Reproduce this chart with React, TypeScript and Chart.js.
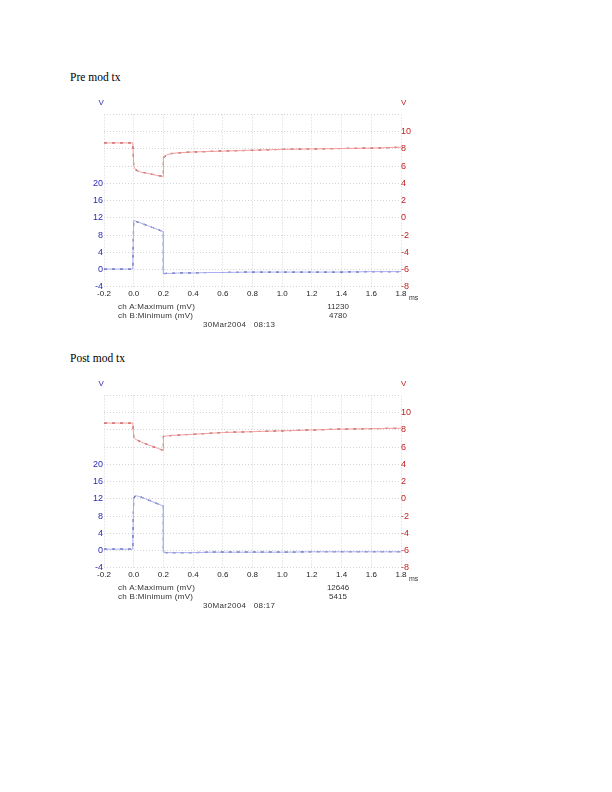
import React, { useEffect, useRef } from "react";
import { Chart, registerables } from "chart.js";

Chart.register(...registerables);

// ---- data (time in ms, values in V) ----
const timeMs = [-0.2, -0.1, -0.006, -0.006, 0.0, 0.01, 0.02, 0.05, 0.1, 0.15, 0.2, 0.2, 0.22, 0.25, 0.3, 0.4, 0.5, 0.6, 0.8, 1.0, 1.2, 1.4, 1.6, 1.8];

const preChA = [8.7, 8.7, 8.7, 8.7, 6.0, 5.65, 5.5, 5.3, 5.15, 4.95, 4.8, 7.0, 7.3, 7.45, 7.55, 7.65, 7.7, 7.75, 7.85, 7.95, 8.0, 8.05, 8.1, 8.2];
const preChB = [0.1, 0.1, 0.1, 0.7, 11.4, 11.25, 11.1, 10.75, 10.1, 9.45, 8.8, -1.0, -0.9, -0.9, -0.8, -0.8, -0.7, -0.7, -0.6, -0.6, -0.6, -0.6, -0.5, -0.5];

const postChA = [8.8, 8.8, 8.8, 8.8, 7.2, 6.95, 6.85, 6.6, 6.25, 5.95, 5.6, 7.25, 7.3, 7.35, 7.4, 7.5, 7.6, 7.7, 7.8, 7.9, 8.0, 8.1, 8.15, 8.2];
const postChB = [0.3, 0.3, 0.3, 1.8, 12.2, 12.6, 12.7, 12.4, 11.7, 11.0, 10.3, -0.4, -0.5, -0.5, -0.5, -0.5, -0.4, -0.4, -0.4, -0.4, -0.3, -0.3, -0.3, -0.3];

const leftTickLabels = [-4, 0, 4, 8, 12, 16, 20];
const rightTickLabels = [-8, -6, -4, -2, 0, 2, 4, 6, 8, 10];

const preStats = { maxA: "11230", minB: "4780", stamp: "30Mar2004   08:13", title: "Pre mod tx" };
const postStats = { maxA: "12646", minB: "5415", stamp: "30Mar2004   08:17", title: "Post mod tx" };

const SANS = "'Liberation Sans', Arial, sans-serif";
const BLUE = "#2a2ab8";
const RED = "#c42020";

function pts(vals: number[]) {
  return timeMs.map((t, i) => ({ x: t, y: vals[i] }));
}

type TxtProps = { x: number; y: number; size: number; color?: string; family?: string; children: React.ReactNode; w?: number; align?: "left" | "center"; ls?: number };
function Txt({ x, y, size, color = "#333", family = SANS, children, w, align = "left", ls = 0 }: TxtProps) {
  return (
    <div
      style={{
        position: "absolute",
        left: align === "center" && w ? x - w / 2 : x,
        top: y - (size + 2) / 2,
        width: w,
        textAlign: align,
        fontFamily: family,
        fontSize: size,
        lineHeight: `${size + 2}px`,
        letterSpacing: ls,
        color,
        whiteSpace: "pre",
      }}
    >
      {children}
    </div>
  );
}

function Scope({ dy, chA, chB, stats }: { dy: number; chA: number[]; chB: number[]; stats: typeof preStats }) {
  const ref = useRef<HTMLCanvasElement>(null);
  const plotTop = 114.5;
  const plotBottom = 286.7;
  const canvasTop = 100;
  const canvasH = 210;

  useEffect(() => {
    if (!ref.current) return;
    const gridCommon = { color: "#d4d4d4", lineWidth: 1, drawTicks: false };
    const chart = new Chart(ref.current, {
      type: "line",
      data: {
        datasets: [
          { data: pts(chA), yAxisID: "yR", borderColor: "#f3a0a0", borderWidth: 1, pointRadius: 0, tension: 0 },
          { data: pts(chA), yAxisID: "yR", borderColor: "#9c1414", borderWidth: 1.2, borderDash: [3, 5], pointRadius: 0, tension: 0 },
          { data: pts(chB), yAxisID: "yL", borderColor: "#a9b1ee", borderWidth: 1, pointRadius: 0, tension: 0 },
          { data: pts(chB), yAxisID: "yL", borderColor: "#1c1c7e", borderWidth: 1.2, borderDash: [3, 5], pointRadius: 0, tension: 0 },
        ],
      },
      options: {
        animation: false,
        responsive: false,
        maintainAspectRatio: false,
        layout: { padding: { top: plotTop - canvasTop, left: 0, right: 0, bottom: 0 } },
        plugins: { legend: { display: false }, tooltip: { enabled: false }, title: { display: false } },
        scales: {
          x: {
            type: "linear",
            min: -0.2,
            max: 1.8,
            ticks: {
              stepSize: 0.2,
              autoSkip: false,
              maxRotation: 0,
              padding: 2,
              color: "#222",
              font: { family: SANS, size: 8 },
              callback: (v: any) => Number(v).toFixed(1),
            },
            grid: gridCommon,
            border: { display: false, dash: [1, 2] },
            afterFit: (s: any) => { s.height = canvasH - (plotBottom - canvasTop); },
          },
          yL: {
            type: "linear",
            position: "left",
            min: -4,
            max: 36,
            ticks: {
              stepSize: 4,
              padding: 1,
              color: BLUE,
              font: { family: SANS, size: 9 },
              callback: (v: any) => (leftTickLabels.includes(Math.round(Number(v))) ? String(Math.round(Number(v))) : ""),
            },
            grid: gridCommon,
            border: { display: false, dash: [1, 2] },
            afterFit: (s: any) => { s.width = 104; },
          },
          yR: {
            type: "linear",
            position: "right",
            min: -8,
            max: 12,
            ticks: {
              stepSize: 2,
              padding: 0,
              color: RED,
              font: { family: SANS, size: 9 },
              callback: (v: any) => (rightTickLabels.includes(Math.round(Number(v))) ? String(Math.round(Number(v))) : ""),
            },
            grid: { display: false, drawTicks: false },
            border: { display: false },
            afterFit: (s: any) => { s.width = 612 - 401; },
          },
        },
      } as any,
    });
    return () => chart.destroy();
  }, []);

  return (
    <>
      <canvas
        ref={ref}
        width={612}
        height={canvasH}
        style={{ position: "absolute", left: 0, top: canvasTop + dy, width: 612, height: canvasH }}
      />
      <Txt x={70} y={77.5 + dy} size={11.5} color="#000" family="'Liberation Serif', 'Times New Roman', serif">{stats.title}</Txt>
      <Txt x={98.5} y={102.5 + dy} size={8} color={BLUE}>V</Txt>
      <Txt x={401} y={102.5 + dy} size={8} color={RED}>V</Txt>
      <Txt x={409} y={297.5 + dy} size={7} color="#333">ms</Txt>
      <Txt x={118} y={307 + dy} size={8} ls={0.3}>ch A:Maximum (mV)</Txt>
      <Txt x={338} y={307 + dy} size={8} w={40} align="center">{stats.maxA}</Txt>
      <Txt x={118} y={316 + dy} size={8} ls={0.3}>ch B:Minimum (mV)</Txt>
      <Txt x={338} y={316 + dy} size={8} w={40} align="center">{stats.minB}</Txt>
      <Txt x={203} y={325 + dy} size={8} ls={0.3}>{stats.stamp}</Txt>
    </>
  );
}

export default function App() {
  return (
    <div style={{ position: "absolute", left: 0, top: 0, width: 612, height: 792, background: "#fff", overflow: "hidden" }}>
      <Scope dy={0} chA={preChA} chB={preChB} stats={preStats} />
      <Scope dy={281.1} chA={postChA} chB={postChB} stats={postStats} />
    </div>
  );
}
